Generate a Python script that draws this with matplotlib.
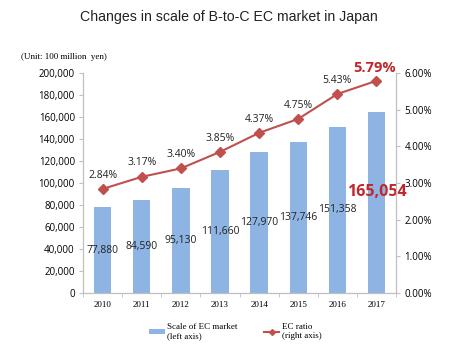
import numpy as np
import matplotlib
matplotlib.use("Agg")
import matplotlib.pyplot as plt
from matplotlib.ticker import FuncFormatter, MultipleLocator, FixedLocator

years = ["2010", "2011", "2012", "2013", "2014", "2015", "2016", "2017"]
market = [77880, 84590, 95130, 111660, 127970, 137746, 151358, 165054]
ratio = [2.84, 3.17, 3.40, 3.85, 4.37, 4.75, 5.43, 5.79]

bar_color = "#8db4e2"
line_color = "#c0504d"
red = "#c0282d"
gray = "#bfbfbf"

fig = plt.figure(figsize=(4.62, 3.5), dpi=100)
ax = fig.add_axes([0.18, 0.163, 0.677, 0.628])
ax2 = ax.twinx()

x = np.arange(len(years))
bars = ax.bar(x, market, width=0.44, color=bar_color, zorder=2)
line, = ax2.plot(x, ratio, color=line_color, marker="D", markersize=5, lw=1.5, zorder=3)

ax.set_xlim(-0.5, 7.5)
ax.set_ylim(0, 200000)
ax2.set_ylim(0, 6)
ax.yaxis.set_major_locator(MultipleLocator(20000))
ax.yaxis.set_major_formatter(FuncFormatter(lambda v, p: f"{int(v):,}"))
ax2.yaxis.set_major_locator(MultipleLocator(1))
ax2.yaxis.set_major_formatter(FuncFormatter(lambda v, p: f"{v:.2f}%"))

ax.set_xticks(x)
ax.set_xticklabels(years, family="Liberation Serif", fontsize=6.5)
ax.xaxis.set_minor_locator(FixedLocator(np.arange(-0.5, 8, 1)))
ax.tick_params(axis="x", which="major", length=0, pad=6)
ax.tick_params(axis="x", which="minor", length=3, color=gray)
ax.tick_params(axis="y", length=3, color=gray, labelsize=7, pad=3)
ax2.tick_params(axis="y", length=3, color=gray, labelsize=7, pad=3)
for lab in ax.get_yticklabels() + ax2.get_yticklabels():
    lab.set_family("Open Sans")

for a in (ax, ax2):
    a.spines["top"].set_visible(False)
    for s in ("left", "right", "bottom"):
        a.spines[s].set_color(gray)
        a.spines[s].set_linewidth(0.8)

# data labels for bars (middle of bar)
for i, v in enumerate(market[:-1]):
    ax.text(i, v / 2, f"{v:,}", ha="center", va="center", fontsize=7.5,
            family="Open Sans", color="#222222", zorder=4)
ax.text(7.0, 92000, f"{market[-1]:,}", ha="center", va="center", fontsize=11.5,
        family="Open Sans", weight="bold", color=red, zorder=4)

# ratio labels
for i, r in enumerate(ratio[:-1]):
    ax2.annotate(f"{r:.2f}%", (i, r), xytext=(0, 6), textcoords="offset points",
                 ha="center", va="bottom", fontsize=7.5, family="Open Sans", color="#222222")
ax2.annotate(f"{ratio[-1]:.2f}%", (7, ratio[-1]), xytext=(-1, 4), textcoords="offset points",
             ha="center", va="bottom", fontsize=10.5, family="Open Sans", weight="bold", color=red)

fig.text(0.495, 0.952, "Changes in scale of B-to-C EC market in Japan", ha="center", va="center",
         fontsize=10.2, family="Liberation Sans", color="#222222")
fig.text(0.045, 0.837, "(Unit: 100 million  yen)", ha="left", va="center",
         fontsize=6.5, family="Liberation Serif")

leg = fig.legend([bars, line], ["Scale of EC market\n(left axis)", "EC ratio\n(right axis)"],
                 loc="center", bbox_to_anchor=(0.51, 0.052), ncol=2, frameon=False,
                 prop={"family": "Liberation Serif", "size": 6.5}, handlelength=1.7,
                 handleheight=0.5, columnspacing=2.9, handletextpad=0.3, markerscale=0.6)

fig.savefig("out.png", dpi=100)
